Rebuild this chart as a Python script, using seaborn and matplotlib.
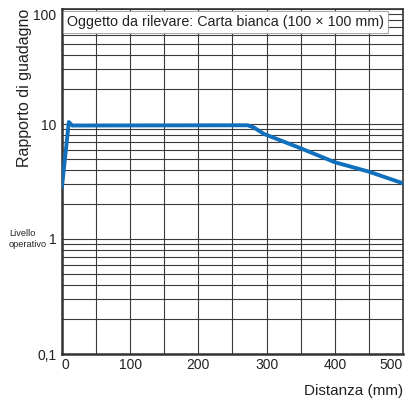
import matplotlib
matplotlib.use("Agg")
import pandas as pd
import seaborn as sns
import matplotlib.pyplot as plt
from matplotlib.ticker import FixedLocator, LogLocator, NullFormatter

# Curve
distance = [0, 10, 15, 272, 281, 296, 350, 400, 450, 500]
gain = [2.85, 10.4, 9.7, 9.75, 9.35, 8.2, 6.15, 4.65, 3.85, 3.05]

x_ticks = [0, 100, 200, 300, 400, 500]
x_labels = ["0", "100", "200", "300", "400", "500"]
y_ticks = [0.1, 1, 10, 100]
y_labels = ["0,1", "1", "10", "100"]

df = pd.DataFrame({"Distanza": distance, "Guadagno": gain})

sns.set_style("white")
plt.rcParams["font.family"] = ["Liberation Sans", "DejaVu Sans"]

fig = plt.figure(figsize=(4.06, 4.03), dpi=100)
ax = fig.add_axes([62 / 406, 1 - 354 / 403, 341 / 406, 345 / 403])

sns.lineplot(data=df, x="Distanza", y="Guadagno", ax=ax, color="#1170be",
             linewidth=2.8, zorder=5)

ax.set_yscale("log")
ax.set_xlim(0, 500)
ax.set_ylim(0.1, 100)

ax.xaxis.set_major_locator(FixedLocator(x_ticks))
ax.xaxis.set_minor_locator(FixedLocator(list(range(50, 501, 100))))
ax.set_xticklabels(x_labels)
ax.yaxis.set_major_locator(FixedLocator(y_ticks))
ax.yaxis.set_minor_locator(LogLocator(base=10, subs=range(2, 10)))
ax.yaxis.set_minor_formatter(NullFormatter())
ax.set_yticklabels(y_labels)

ax.grid(True, which="both", color="#3a3a3a", linewidth=0.8)
ax.tick_params(which="both", length=0, labelsize=10, colors="#222222")
ax.tick_params(axis="y", pad=4)
ax.tick_params(axis="x", pad=3)

xl = ax.get_xticklabels()
xl[0].set_ha("left")
xl[-1].set_ha("right")
yl = ax.get_yticklabels()
yl[-1].set_va("top")

for side in ["top", "right"]:
    ax.spines[side].set_linewidth(1.2)
    ax.spines[side].set_color("#333333")
for side in ["left", "bottom"]:
    ax.spines[side].set_linewidth(1.8)
    ax.spines[side].set_color("#333333")

ax.set_xlabel("")
ax.set_ylabel("")

ax.text(5 / 341, 1 - 13 / 345, "Oggetto da rilevare: Carta bianca (100 \u00d7 100 mm)",
        transform=ax.transAxes, ha="left", va="center", fontsize=10.3,
        color="#222222", zorder=10,
        bbox=dict(boxstyle="square,pad=0.25", fc="white", ec="#999999", lw=0.6))

fig.text(403 / 406, 1 - 391 / 403, "Distanza (mm)", ha="right", va="center",
         fontsize=11, color="#222222")
fig.text(25 / 406, 1 - 88 / 403, "Rapporto di guadagno", rotation=90,
         ha="center", va="center", fontsize=11.5, color="#222222")
fig.text(9 / 406, 1 - 239 / 403, "Livello\noperativo", ha="left", va="center",
         fontsize=6.6, fontstretch="condensed", linespacing=1.2, color="#222222")

fig.savefig("out.png", dpi=100)
